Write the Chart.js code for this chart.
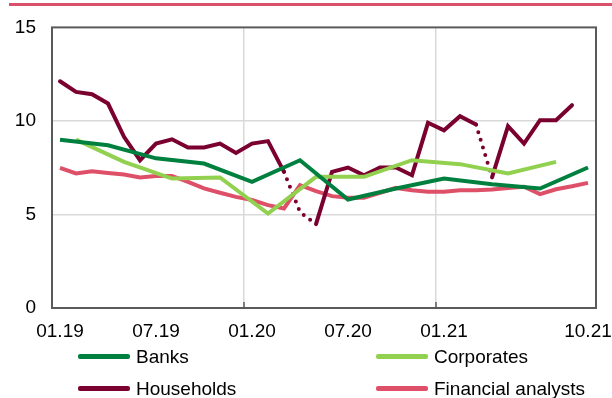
<!DOCTYPE html>
<html>
<head>
<meta charset="utf-8">
<script src="https://cdn.jsdelivr.net/npm/chart.js@4"></script>
<style>
  html, body { margin: 0; padding: 0; background: #fff; overflow: hidden; }
  #wrap { position: relative; width: 612px; height: 398px; }
  #topRule { position: absolute; left: 9px; right: 0; top: 3px; height: 3px; background: #d9506a; }
  #legend { position: absolute; left: 0; top: 341px; width: 612px;
            font-family: "Liberation Sans", Arial, sans-serif; font-size: 19px; color: #000; }
  .item { position: absolute; height: 32px; line-height: 32px; white-space: nowrap; }
  .item span.swatch { display: inline-block; width: 52px; height: 5px; border-radius: 2px;
                      vertical-align: middle; margin-right: 6px; position: relative; top: -1px; }
</style>
</head>
<body>
<div id="wrap">
  <div id="topRule"></div>
  <canvas id="expectations" width="612" height="398"></canvas>
  <div id="legend"></div>
</div>
<script>
// month labels, 01.19 .. 10.21
var months = ['01.19','02.19','03.19','04.19','05.19','06.19','07.19','08.19','09.19','10.19','11.19','12.19',
              '01.20','02.20','03.20','04.20','05.20','06.20','07.20','08.20','09.20','10.20','11.20','12.20',
              '01.21','02.21','03.21','04.21','05.21','06.21','07.21','08.21','09.21','10.21'];
var shownMonths = ['01.19','07.19','01.20','07.20','01.21','10.21'];
var yearStarts = ['01.20','01.21'];

// quarterly surveys (null = no survey that month)
var banks = [9.0,null,null,8.7,null,null,8.0,null,null,7.72,null,null,6.74,null,null,7.9,null,null,
             5.8,null,null,6.39,null,null,6.92,null,null,6.62,null,null,6.39,null,null,7.51];
var corporates = [null,9.0,null,null,7.81,null,null,6.92,null,null,6.98,null,null,5.05,null,null,7.01,null,
                  null,7.01,null,null,7.9,null,null,7.69,null,null,7.19,null,null,7.81,null,null];
// monthly
var households = [12.12,11.55,11.43,10.93,9.15,7.9,8.79,9.02,8.58,8.58,8.79,8.29,8.79,8.92,7.28,5.13,4.48,
                  7.28,7.51,7.1,7.51,7.51,7.1,9.9,9.5,10.25,9.81,6.98,9.72,8.79,10.04,10.04,10.84,null];
var analysts = [7.49,7.19,7.31,7.22,7.14,6.98,7.06,7.06,6.74,6.39,6.16,5.94,5.77,5.5,5.32,6.57,6.25,5.98,
                5.89,5.89,6.16,6.42,6.3,6.21,6.21,6.3,6.3,6.34,6.42,6.48,6.09,6.35,6.51,6.69];
// household segments drawn dotted (start month of segment)
var dottedFrom = ['03.20','04.20','03.21'];

var names = ['Banks', 'Corporates', 'Households', 'Financial analysts'];
var colors = ['#00803f', '#92d050', '#7a0030', '#de5068'];

var FONT = '"Liberation Sans", Arial, sans-serif';

function line(label, data, color, extra) {
    var ds = {
        label: label,
        data: data,
        borderColor: color,
        backgroundColor: color,
        borderWidth: 4,
        pointRadius: 0,
        pointHoverRadius: 0,
        tension: 0,
        spanGaps: true,
        fill: false
    };
    return Object.assign(ds, extra || {});
}

// frame around the plot plus small inward ticks at year starts
var frame = {
    id: 'frame',
    afterDraw: function(chart) {
        var a = chart.chartArea, c = chart.ctx, x = chart.scales.x;
        c.save();
        c.strokeStyle = '#5a5a5a';
        c.lineWidth = 2;
        c.strokeRect(a.left, a.top, a.right - a.left, a.bottom - a.top);
        c.lineWidth = 1.5;
        yearStarts.forEach(function(m) {
            var i = months.indexOf(m);
            var px = (x.getPixelForValue(i - 1) + x.getPixelForValue(i)) / 2;
            c.beginPath();
            c.moveTo(px, a.bottom);
            c.lineTo(px, a.bottom - 6);
            c.stroke();
        });
        c.restore();
    }
};

var ctx = document.getElementById('expectations');

var chart = new Chart(ctx, {
    type: 'line',
    data: {
        labels: months,
        datasets: [
            line(names[0], banks, colors[0]),
            line(names[1], corporates, colors[1]),
            line(names[2], households, colors[2], {
                borderCapStyle: 'round',
                segment: {
                    borderDash: function(s) {
                        return dottedFrom.indexOf(months[s.p0DataIndex]) >= 0 ? [0, 8] : undefined;
                    }
                }
            }),
            line(names[3], analysts, colors[3])
        ]
    },
    options: {
        responsive: false,
        animation: false,
        events: [],
        layout: { padding: { top: 27, right: 16, left: 0, bottom: 0 } },
        plugins: { legend: { display: false }, tooltip: { enabled: false } },
        scales: {
            x: {
                type: 'category',
                offset: true,
                afterFit: function(s) {
                    s.height = 90;
                    // let the last label run into the right margin
                    s.paddingLeft = 0;
                    s.paddingRight = 0;
                },
                grid: {
                    offset: true,
                    drawTicks: false,
                    lineWidth: 1.5,
                    color: function(c) {
                        return yearStarts.indexOf(months[c.index]) >= 0 ? '#d9d9d9' : 'rgba(0,0,0,0)';
                    }
                },
                border: { display: false },
                ticks: {
                    autoSkip: false,
                    maxRotation: 0,
                    padding: 12,
                    color: '#000',
                    font: { family: FONT, size: 19 },
                    callback: function(v, i) {
                        return shownMonths.indexOf(months[i]) >= 0 ? months[i] : '';
                    }
                }
            },
            y: {
                min: 0,
                max: 15,
                afterFit: function(s) { s.width = 52; },
                grid: {
                    drawTicks: false,
                    lineWidth: 1.5,
                    color: function(c) {
                        return (c.tick && c.tick.value > 0 && c.tick.value < 15) ? '#d9d9d9' : 'rgba(0,0,0,0)';
                    }
                },
                border: { display: false },
                ticks: {
                    stepSize: 5,
                    padding: 16,
                    color: '#000',
                    font: { family: FONT, size: 19 }
                }
            }
        }
    },
    plugins: [frame]
});

// two-column legend under the plot
var legend = document.getElementById('legend');
var spots = [[78, 0], [376, 0], [78, 32], [376, 32]];
names.forEach(function(n, i) {
    var d = document.createElement('div');
    d.className = 'item';
    d.style.left = spots[i][0] + 'px';
    d.style.top = spots[i][1] + 'px';
    var sw = document.createElement('span');
    sw.className = 'swatch';
    sw.style.background = colors[i];
    d.appendChild(sw);
    d.appendChild(document.createTextNode(n));
    legend.appendChild(d);
});
</script>
</body>
</html>
